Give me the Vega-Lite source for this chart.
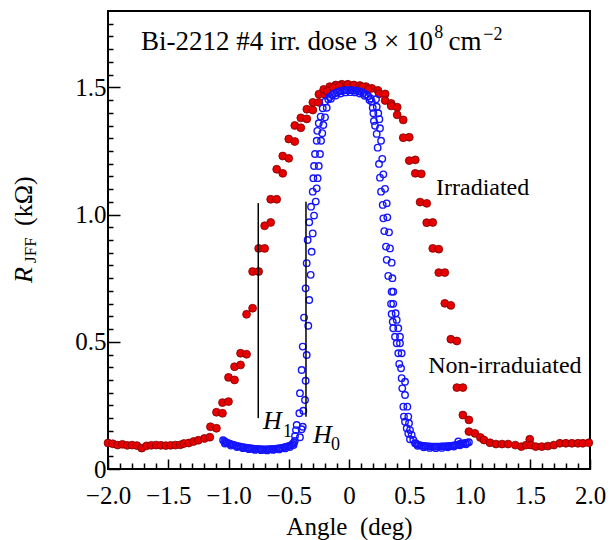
{
"$schema": "https://vega.github.io/schema/vega-lite/v6.json",
"width": 482, "height": 458,
"autosize": {"type": "none"},
"padding": {"left": 108, "top": 11, "right": 22, "bottom": 71},
"background": "white",
"config": {"view": {"stroke": "black", "strokeWidth": 2}, "font": "Liberation Serif"},
"datasets": {
"irr": [
{"a":-2.00,"r":0.102},{"a":-1.96,"r":0.099},{"a":-1.92,"r":0.094},{"a":-1.88,"r":0.097},{"a":-1.84,"r":0.093},{"a":-1.80,"r":0.094},{"a":-1.76,"r":0.092},{"a":-1.72,"r":0.082},{"a":-1.68,"r":0.091},{"a":-1.64,"r":0.093},{"a":-1.60,"r":0.094},{"a":-1.56,"r":0.093},{"a":-1.52,"r":0.092},{"a":-1.48,"r":0.093},{"a":-1.44,"r":0.094},{"a":-1.40,"r":0.095},{"a":-1.37,"r":0.100},{"a":-1.33,"r":0.102},{"a":-1.29,"r":0.108},{"a":-1.25,"r":0.113},{"a":-1.20,"r":0.120},{"a":-1.155,"r":0.125},
{"a":-1.15,"r":0.166},{"a":-1.10,"r":0.160},
{"a":-1.10,"r":0.223},{"a":-1.05,"r":0.219},
{"a":-1.05,"r":0.261},{"a":-1.00,"r":0.265},
{"a":-1.00,"r":0.360},{"a":-0.95,"r":0.350},
{"a":-0.95,"r":0.402},{"a":-0.90,"r":0.409},
{"a":-0.90,"r":0.455},{"a":-0.85,"r":0.451},
{"a":-0.85,"r":0.608},{"a":-0.80,"r":0.632},
{"a":-0.80,"r":0.776},{"a":-0.75,"r":0.776},
{"a":-0.75,"r":0.867},{"a":-0.70,"r":0.867},
{"a":-0.70,"r":0.956},{"a":-0.65,"r":0.969},
{"a":-0.65,"r":1.060},{"a":-0.60,"r":1.060},
{"a":-0.60,"r":1.178},{"a":-0.55,"r":1.162},
{"a":-0.55,"r":1.230},{"a":-0.50,"r":1.221},
{"a":-0.50,"r":1.297},{"a":-0.45,"r":1.287},
{"a":-0.45,"r":1.350},{"a":-0.40,"r":1.341},
{"a":-0.40,"r":1.380},{"a":-0.35,"r":1.376},
{"a":-0.35,"r":1.414},{"a":-0.30,"r":1.411},
{"a":-0.30,"r":1.441},{"a":-0.25,"r":1.441},
{"a":-0.25,"r":1.473},{"a":-0.20,"r":1.473},
{"a":-0.21,"r":1.492},{"a":-0.16,"r":1.503},{"a":-0.11,"r":1.509},{"a":-0.06,"r":1.512},{"a":-0.01,"r":1.512},{"a":0.04,"r":1.509},{"a":0.09,"r":1.507},{"a":0.14,"r":1.503},{"a":0.19,"r":1.496},{"a":0.24,"r":1.488},
{"a":-0.18,"r":1.486},{"a":-0.13,"r":1.499},{"a":-0.08,"r":1.505},{"a":0.11,"r":1.502},{"a":0.16,"r":1.493},
{"a":0.25,"r":1.474},{"a":0.30,"r":1.474},
{"a":0.30,"r":1.448},{"a":0.35,"r":1.437},
{"a":0.35,"r":1.427},{"a":0.40,"r":1.422},
{"a":0.40,"r":1.392},{"a":0.45,"r":1.372},
{"a":0.45,"r":1.302},{"a":0.50,"r":1.304},
{"a":0.50,"r":1.212},{"a":0.55,"r":1.215},
{"a":0.55,"r":1.162},{"a":0.60,"r":1.160},
{"a":0.59,"r":1.049},{"a":0.645,"r":1.044},
{"a":0.645,"r":0.968},{"a":0.695,"r":0.969},
{"a":0.695,"r":0.867},{"a":0.745,"r":0.864},
{"a":0.745,"r":0.772},{"a":0.795,"r":0.772},
{"a":0.795,"r":0.651},{"a":0.845,"r":0.643},
{"a":0.845,"r":0.510},{"a":0.895,"r":0.503},
{"a":0.895,"r":0.320},{"a":0.945,"r":0.320},
{"a":0.945,"r":0.212},{"a":0.995,"r":0.193},
{"a":0.995,"r":0.147},{"a":1.045,"r":0.140},
{"a":1.09,"r":0.124},{"a":1.12,"r":0.114},{"a":1.17,"r":0.103},{"a":1.22,"r":0.098},{"a":1.27,"r":0.098},{"a":1.32,"r":0.098},{"a":1.38,"r":0.094},{"a":1.43,"r":0.088},{"a":1.47,"r":0.094},{"a":1.50,"r":0.117},{"a":1.51,"r":0.094},{"a":1.55,"r":0.088},{"a":1.60,"r":0.088},{"a":1.65,"r":0.090},{"a":1.70,"r":0.094},{"a":1.75,"r":0.101},{"a":1.80,"r":0.101},{"a":1.85,"r":0.101},{"a":1.90,"r":0.101},{"a":1.94,"r":0.101},{"a":1.99,"r":0.103}
],
"non": [
{"a":-1.045,"r":0.113},{"a":-1.035,"r":0.109},{"a":-1.025,"r":0.106},{"a":-1.015,"r":0.103},{"a":-1.005,"r":0.101},{"a":-0.99,"r":0.099},{"a":-0.975,"r":0.097},{"a":-0.96,"r":0.095},{"a":-0.945,"r":0.093},{"a":-0.93,"r":0.091},{"a":-0.915,"r":0.089},{"a":-0.90,"r":0.088},{"a":-0.885,"r":0.086},{"a":-0.87,"r":0.085},{"a":-0.855,"r":0.084},{"a":-0.84,"r":0.083},{"a":-0.825,"r":0.082},{"a":-0.81,"r":0.081},{"a":-0.795,"r":0.080},{"a":-0.78,"r":0.079},{"a":-0.765,"r":0.079},{"a":-0.75,"r":0.078},{"a":-0.735,"r":0.078},{"a":-0.72,"r":0.077},{"a":-0.705,"r":0.077},{"a":-0.69,"r":0.077},{"a":-0.675,"r":0.077},{"a":-0.66,"r":0.078},{"a":-0.645,"r":0.078},{"a":-0.63,"r":0.079},{"a":-0.615,"r":0.079},{"a":-0.60,"r":0.080},{"a":-0.585,"r":0.081},{"a":-0.57,"r":0.082},{"a":-0.555,"r":0.083},{"a":-0.54,"r":0.085},{"a":-0.525,"r":0.087},{"a":-0.51,"r":0.089},{"a":-0.495,"r":0.091},{"a":-0.48,"r":0.094},{"a":-0.468,"r":0.098},{"a":-0.458,"r":0.103},{"a":-0.45,"r":0.110},
{"a":-1.03,"r":0.100},{"a":-0.98,"r":0.092},{"a":-0.93,"r":0.086},{"a":-0.88,"r":0.082},{"a":-0.83,"r":0.078},{"a":-0.78,"r":0.075},{"a":-0.73,"r":0.074},{"a":-0.68,"r":0.073},{"a":-0.63,"r":0.075},{"a":-0.58,"r":0.077},{"a":-0.53,"r":0.081},{"a":-0.49,"r":0.086},{"a":-0.46,"r":0.094},
{"a":-0.448,"r":0.130},{"a":-0.407,"r":0.125},{"a":-0.440,"r":0.153},{"a":-0.393,"r":0.156},{"a":-0.434,"r":0.173},{"a":-0.384,"r":0.166},{"a":-0.412,"r":0.219},{"a":-0.379,"r":0.229},{"a":-0.407,"r":0.298},{"a":-0.365,"r":0.271},{"a":-0.393,"r":0.389},{"a":-0.360,"r":0.347},{"a":-0.384,"r":0.481},{"a":-0.351,"r":0.448},{"a":-0.373,"r":0.595},{"a":-0.338,"r":0.563},{"a":-0.360,"r":0.710},{"a":-0.330,"r":0.664},{"a":-0.351,"r":0.809},{"a":-0.318,"r":0.763},{"a":-0.343,"r":0.900},{"a":-0.310,"r":0.854},{"a":-0.330,"r":0.970},{"a":-0.301,"r":0.926},{"a":-0.315,"r":1.031},{"a":-0.290,"r":0.996},{"a":-0.301,"r":1.090},{"a":-0.276,"r":1.051},{"a":-0.296,"r":1.143},{"a":-0.268,"r":1.103},{"a":-0.290,"r":1.191},{"a":-0.260,"r":1.143},{"a":-0.282,"r":1.238},{"a":-0.251,"r":1.191},{"a":-0.268,"r":1.290},{"a":-0.241,"r":1.238},{"a":-0.263,"r":1.329},{"a":-0.232,"r":1.290},{"a":-0.251,"r":1.359},{"a":-0.222,"r":1.320},{"a":-0.235,"r":1.385},{"a":-0.213,"r":1.352},{"a":-0.218,"r":1.418},{"a":-0.199,"r":1.382},{"a":-0.199,"r":1.444},{"a":-0.185,"r":1.420},{"a":-0.172,"r":1.453},
{"a":-0.16,"r":1.462},{"a":-0.14,"r":1.470},{"a":-0.12,"r":1.476},{"a":-0.10,"r":1.480},{"a":-0.08,"r":1.484},{"a":-0.06,"r":1.487},{"a":-0.04,"r":1.488},{"a":-0.02,"r":1.489},{"a":0.0,"r":1.489},{"a":0.02,"r":1.489},{"a":0.04,"r":1.488},{"a":0.06,"r":1.487},{"a":0.08,"r":1.485},{"a":0.10,"r":1.482},{"a":0.12,"r":1.478},{"a":0.14,"r":1.472},{"a":0.16,"r":1.465},{"a":0.18,"r":1.456},
{"a":-0.15,"r":1.455},{"a":-0.11,"r":1.468},{"a":-0.07,"r":1.476},{"a":-0.03,"r":1.480},{"a":0.01,"r":1.481},{"a":0.05,"r":1.480},{"a":0.09,"r":1.476},{"a":0.13,"r":1.467},{"a":0.17,"r":1.450},
{"a":0.188,"r":1.444},{"a":0.224,"r":1.453},{"a":0.197,"r":1.420},{"a":0.230,"r":1.424},{"a":0.202,"r":1.398},{"a":0.243,"r":1.398},{"a":0.207,"r":1.368},{"a":0.252,"r":1.375},{"a":0.216,"r":1.349},{"a":0.257,"r":1.339},{"a":0.230,"r":1.317},{"a":0.266,"r":1.290},{"a":0.238,"r":1.263},{"a":0.276,"r":1.219},{"a":0.249,"r":1.199},{"a":0.285,"r":1.158},{"a":0.257,"r":1.145},{"a":0.299,"r":1.101},{"a":0.266,"r":1.090},{"a":0.313,"r":1.044},{"a":0.280,"r":1.038},{"a":0.318,"r":0.989},{"a":0.285,"r":0.985},{"a":0.332,"r":0.930},{"a":0.293,"r":0.935},{"a":0.340,"r":0.867},{"a":0.307,"r":0.874},{"a":0.354,"r":0.811},{"a":0.313,"r":0.822},{"a":0.360,"r":0.750},{"a":0.326,"r":0.759},{"a":0.367,"r":0.697},{"a":0.354,"r":0.697},{"a":0.367,"r":0.649},{"a":0.349,"r":0.649},{"a":0.387,"r":0.612},{"a":0.354,"r":0.609},{"a":0.396,"r":0.586},{"a":0.363,"r":0.579},{"a":0.409,"r":0.553},{"a":0.367,"r":0.553},{"a":0.423,"r":0.520},{"a":0.382,"r":0.520},{"a":0.423,"r":0.494},{"a":0.396,"r":0.494},{"a":0.437,"r":0.455},{"a":0.409,"r":0.455},{"a":0.417,"r":0.413},{"a":0.432,"r":0.396},{"a":0.437,"r":0.357},{"a":0.465,"r":0.343},{"a":0.442,"r":0.317},{"a":0.465,"r":0.291},{"a":0.451,"r":0.245},{"a":0.484,"r":0.245},{"a":0.456,"r":0.206},{"a":0.492,"r":0.206},{"a":0.465,"r":0.186},{"a":0.498,"r":0.180},{"a":0.479,"r":0.160},{"a":0.506,"r":0.153},{"a":0.492,"r":0.140},{"a":0.520,"r":0.134},{"a":0.506,"r":0.117},{"a":0.534,"r":0.114},{"a":0.548,"r":0.101},
{"a":0.555,"r":0.100},{"a":0.565,"r":0.097},{"a":0.575,"r":0.095},{"a":0.59,"r":0.093},{"a":0.605,"r":0.092},{"a":0.62,"r":0.091},{"a":0.635,"r":0.090},{"a":0.65,"r":0.089},{"a":0.665,"r":0.089},{"a":0.68,"r":0.088},{"a":0.695,"r":0.088},{"a":0.71,"r":0.088},{"a":0.725,"r":0.088},{"a":0.74,"r":0.088},{"a":0.755,"r":0.088},{"a":0.77,"r":0.089},{"a":0.785,"r":0.089},{"a":0.80,"r":0.089},{"a":0.815,"r":0.090},{"a":0.83,"r":0.090},{"a":0.845,"r":0.091},{"a":0.86,"r":0.092},{"a":0.875,"r":0.093},{"a":0.89,"r":0.095},{"a":0.905,"r":0.096},{"a":0.92,"r":0.098},{"a":0.935,"r":0.099},{"a":0.95,"r":0.100},{"a":0.965,"r":0.102},{"a":0.98,"r":0.103},{"a":0.995,"r":0.105},
{"a":0.57,"r":0.091},{"a":0.62,"r":0.085},{"a":0.67,"r":0.083},{"a":0.72,"r":0.082},{"a":0.77,"r":0.083},{"a":0.82,"r":0.085},{"a":0.87,"r":0.088},{"a":0.92,"r":0.093},{"a":0.97,"r":0.097},{"a":0.907,"r":0.108}
]
},
"layer": [
{"data": {"name": "irr"},
 "mark": {"type": "point", "filled": true, "fill": "#e60000", "stroke": "#7a0000", "strokeWidth": 0.8, "size": 62, "opacity": 1},
 "encoding": {
  "x": {"field": "a", "type": "quantitative", "scale": {"domain": [-2, 2], "nice": false, "zero": false},
   "axis": {"orient": "bottom", "values": [-2, -1.5, -1, -0.5, 0, 0.5, 1, 1.5, 2], "tickSize": -10, "tickWidth": 1.5, "tickColor": "black", "domain": false, "grid": false,
    "labelExpr": "datum.value == 0 ? '0' : format(datum.value, '.1f')", "labelFont": "Liberation Serif", "labelFontSize": 25, "labelColor": "black", "labelPadding": 24, "labelFlush": false, "labelOverlap": false,
    "title": "Angle\u00a0 (deg)", "titleFont": "Liberation Serif", "titleFontSize": 25, "titleFontWeight": "normal", "titleColor": "black", "titlePadding": 6}},
  "y": {"field": "r", "type": "quantitative", "scale": {"domain": [0, 1.8], "nice": false},
   "axis": {"orient": "left", "values": [0, 0.5, 1, 1.5], "tickSize": -12, "tickWidth": 1.5, "tickColor": "black", "domain": false, "grid": false,
    "labelExpr": "datum.value == 0 ? '0' : format(datum.value, '.1f')", "labelFont": "Liberation Serif", "labelFontSize": 25, "labelColor": "black", "labelPadding": 14, "labelOverlap": false, "labelFlush": false,
    "title": null}}
 }},
{"data": {"name": "non"},
 "mark": {"type": "point", "filled": false, "stroke": "#1414ff", "strokeWidth": 1.4, "size": 42, "opacity": 1},
 "encoding": {
  "x": {"field": "a", "type": "quantitative", "scale": {"domain": [-2, 2], "nice": false, "zero": false},
   "axis": {"orient": "bottom", "values": [-1.9,-1.8,-1.7,-1.6,-1.4,-1.3,-1.2,-1.1,-0.9,-0.8,-0.7,-0.6,-0.4,-0.3,-0.2,-0.1,0.1,0.2,0.3,0.4,0.6,0.7,0.8,0.9,1.1,1.2,1.3,1.4,1.6,1.7,1.8,1.9], "tickSize": -6, "tickWidth": 1.5, "tickColor": "black", "domain": false, "grid": false, "labels": false, "title": null}},
  "y": {"field": "r", "type": "quantitative", "scale": {"domain": [0, 1.8], "nice": false},
   "axis": {"orient": "left", "values": [0.05,0.1,0.15,0.2,0.25,0.3,0.35,0.4,0.45,0.55,0.6,0.65,0.7,0.75,0.8,0.85,0.9,0.95,1.05,1.1,1.15,1.2,1.25,1.3,1.35,1.4,1.45,1.55,1.6,1.65,1.7,1.75], "tickSize": -5, "tickWidth": 1.5, "tickColor": "black", "domain": false, "grid": false, "labels": false, "title": null}}
 }},
{"data": {"values": [{"a": -0.753, "r": 0.2, "r2": 1.045}, {"a": -0.357, "r": 0.205, "r2": 1.05}]},
 "mark": {"type": "rule", "color": "black", "strokeWidth": 1.5},
 "encoding": {"x": {"field": "a", "type": "quantitative", "axis": null}, "y": {"field": "r", "type": "quantitative", "axis": null}, "y2": {"field": "r2"}}},
{"data": {"values": [{"a": 0.722, "r": 1.077, "t": "Irradiated"}, {"a": 0.658, "r": 0.376, "t": "Non-irraduiated"}]},
 "mark": {"type": "text", "font": "Liberation Serif", "fontSize": 24, "align": "left", "baseline": "alphabetic", "color": "black"},
 "encoding": {"x": {"field": "a", "type": "quantitative", "axis": null}, "y": {"field": "r", "type": "quantitative", "axis": null}, "text": {"field": "t"}}},
{"data": {"values": [{"a": -1.726, "r": 1.647, "t": "Bi-2212 #4 irr. dose 3 × 10"}, {"a": 0.825, "r": 1.647, "t": "cm"}]},
 "mark": {"type": "text", "font": "Liberation Serif", "fontSize": 27, "align": "left", "baseline": "alphabetic", "color": "black"},
 "encoding": {"x": {"field": "a", "type": "quantitative", "axis": null}, "y": {"field": "r", "type": "quantitative", "axis": null}, "text": {"field": "t"}}},
{"data": {"values": [{"a": 0.708, "r": 1.694, "t": "8"}, {"a": 1.115, "r": 1.686, "t": "−2"}, {"a": -0.548, "r": 0.126, "t": "1"}, {"a": -0.149, "r": 0.075, "t": "0"}]},
 "mark": {"type": "text", "font": "Liberation Serif", "fontSize": 18, "align": "left", "baseline": "alphabetic", "color": "black"},
 "encoding": {"x": {"field": "a", "type": "quantitative", "axis": null}, "y": {"field": "r", "type": "quantitative", "axis": null}, "text": {"field": "t"}}},
{"data": {"values": [{"a": -0.714, "r": 0.157, "t": "H"}, {"a": -0.299, "r": 0.102, "t": "H"}]},
 "mark": {"type": "text", "font": "Liberation Serif", "fontSize": 26, "fontStyle": "italic", "align": "left", "baseline": "alphabetic", "color": "black"},
 "encoding": {"x": {"field": "a", "type": "quantitative", "axis": null}, "y": {"field": "r", "type": "quantitative", "axis": null}, "text": {"field": "t"}}},
{"data": {"values": [{"a": -2.631, "r": 0.731, "t": "R"}]},
 "mark": {"type": "text", "font": "Liberation Serif", "fontSize": 26, "fontStyle": "italic", "angle": 270, "align": "left", "baseline": "alphabetic", "color": "black"},
 "encoding": {"x": {"field": "a", "type": "quantitative", "axis": null}, "y": {"field": "r", "type": "quantitative", "axis": null}, "text": {"field": "t"}}},
{"data": {"values": [{"a": -2.598, "r": 0.81, "t": "JFF"}]},
 "mark": {"type": "text", "font": "Liberation Serif", "fontSize": 17, "angle": 270, "align": "left", "baseline": "alphabetic", "color": "black"},
 "encoding": {"x": {"field": "a", "type": "quantitative", "axis": null}, "y": {"field": "r", "type": "quantitative", "axis": null}, "text": {"field": "t"}}},
{"data": {"values": [{"a": -2.631, "r": 0.955, "t": "(kΩ)"}]},
 "mark": {"type": "text", "font": "Liberation Serif", "fontSize": 26, "angle": 270, "align": "left", "baseline": "alphabetic", "color": "black"},
 "encoding": {"x": {"field": "a", "type": "quantitative", "axis": null}, "y": {"field": "r", "type": "quantitative", "axis": null}, "text": {"field": "t"}}}
],
"resolve": {"axis": {"x": "independent", "y": "independent"}}
}
